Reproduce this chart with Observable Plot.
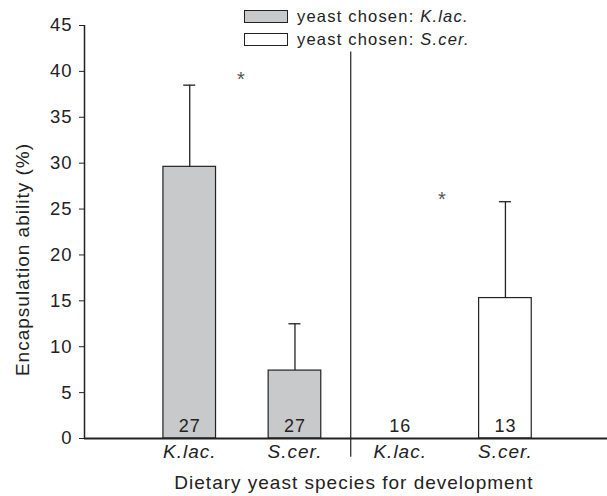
<!DOCTYPE html>
<html><head><meta charset="utf-8">
<script src="https://cdn.jsdelivr.net/npm/d3@7"></script>
<script src="https://cdn.jsdelivr.net/npm/@observablehq/plot@0.6"></script>
<style>
body{margin:0;background:#fff;font-family:"Liberation Sans",Arial,sans-serif;}
#wrap{position:relative;width:607px;height:496px;}
.leg{position:absolute;left:244px;font-size:16.5px;letter-spacing:1.2px;color:#222;display:flex;align-items:center;white-space:nowrap}
.sw{width:42px;height:11px;border:1px solid #222;margin-right:9px}
</style></head><body>
<div id="wrap">
<div class="leg" style="top:7px"><div class="sw" style="background:#c8c9cb"></div>yeast chosen:&nbsp;<i>K.lac.</i></div>
<div class="leg" style="top:30px"><div class="sw" style="background:#fff"></div>yeast chosen:&nbsp;<i>S.cer.</i></div>
</div>
<script>
const categories = ["K.lac.", "S.cer.", "K.lac.", "S.cer."];
const positions = [1, 2, 3, 4];
const chosen = ["K.lac.", "K.lac.", "S.cer.", "S.cer."];
const means = [29.6, 7.4, 0, 15.3];
const errors = [8.9, 5.1, 0, 10.5];
const counts = ["27", "27", "16", "13"];
const starX = [1.49, 3.4];
const starY = [39.6, 26.6];
const yTicks = [0, 5, 10, 15, 20, 25, 30, 35, 40, 45];
const colors = {"K.lac.": "#c8c9cb", "S.cer.": "#ffffff"};

const bars = positions.map((p, i) => ({pos: p, cat: categories[i], chosen: chosen[i], mean: means[i], err: errors[i], n: counts[i]}));
const stars = starX.map((x, i) => ({x, y: starY[i]}));
const hw = 0.25, cw = 0.057;

const chart = Plot.plot({
  width: 607, height: 496,
  marginLeft: 84, marginRight: 0, marginTop: 25, marginBottom: 58,
  style: {fontFamily: "Liberation Sans, Arial, sans-serif", fontSize: "18px", letterSpacing: "1px", color: "#222", background: "transparent", overflow: "visible"},
  x: {domain: [0, 4.97]},
  y: {domain: [0, 45]},
  marks: [
    Plot.rectY(bars.filter(d => d.mean > 0), {x1: d => d.pos - hw, x2: d => d.pos + hw, y1: 0, y2: "mean", fill: d => colors[d.chosen], stroke: "#222", strokeWidth: 1.2}),
    Plot.ruleX(bars.filter(d => d.err > 0), {x: "pos", y1: "mean", y2: d => d.mean + d.err, stroke: "#222", strokeWidth: 1.3}),
    Plot.ruleY(bars.filter(d => d.err > 0), {y: d => d.mean + d.err, x1: d => d.pos - cw, x2: d => d.pos + cw, stroke: "#222", strokeWidth: 1.3}),
    Plot.text(bars, {x: "pos", y: 0, text: "n", dy: -12, fontSize: 18, fill: "#222"}),
    Plot.text(stars, {x: "x", y: "y", text: () => "*", fontSize: 20, dy: 5, fill: "#555", letterSpacing: 0}),
    Plot.ruleX([2.53], {y1: -2.05, y2: 42.1, stroke: "#222", strokeWidth: 1.2, clip: false}),
    Plot.ruleY([0], {x1: 0, x2: 4.97, stroke: "#222", strokeWidth: 1.8}),
    Plot.ruleX([0], {y1: 0, y2: 45, stroke: "#222", strokeWidth: 1.5}),
    Plot.axisY({ticks: yTicks, tickSize: 5, tickPadding: 7, fontSize: 18.5, label: null, stroke: "#222", fill: "#222"}),
    Plot.axisX({ticks: positions, tickFormat: (d, i) => categories[i], tickSize: 0, tickPadding: 6, fontSize: 19, fontStyle: "italic", label: null, fill: "#222"}),
    Plot.text(["Dietary yeast species for development"], {frameAnchor: "bottom", x: () => 2.56, dy: 44, lineAnchor: "middle", fontSize: 19, fill: "#222"}),
    Plot.text(["Encapsulation ability (%)"], {frameAnchor: "left", y: () => 19.5, dx: -62, rotate: -90, textAnchor: "middle", lineAnchor: "middle", fontSize: 19, fill: "#222"})
  ]
});
document.getElementById("wrap").prepend(chart);
chart.style.position = "absolute";
chart.style.left = "0"; chart.style.top = "0";
</script>
</body></html>
